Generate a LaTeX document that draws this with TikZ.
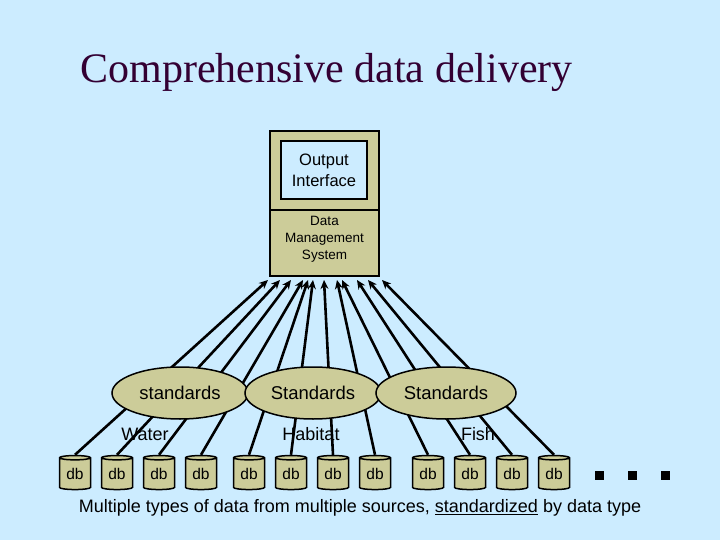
\documentclass[tikz,border=0pt]{standalone}
\usepackage{fontspec}
\setmainfont{Liberation Sans}
\newfontfamily\titlefont{Liberation Serif}
\usetikzlibrary{shapes.geometric,arrows.meta}
\definecolor{bg}{RGB}{204,236,255}
\definecolor{tan}{RGB}{204,204,153}
\definecolor{ttl}{RGB}{51,0,51}
\begin{document}
\begin{tikzpicture}[x=1pt,y=-1pt,
  db/.style={cylinder,shape border rotate=90,aspect=0.25,draw,line width=1.5pt,fill=tan,minimum width=31pt,minimum height=34pt,inner sep=0pt,font=\fontsize{15.5}{15}\selectfont},
  link/.style={line width=2.6pt,-{Stealth[length=9pt,width=8pt]}},
  std/.style={ellipse,draw,line width=1.5pt,fill=tan,minimum width=136pt,minimum height=52pt,font=\fontsize{18.5}{18}\selectfont},
  lbl/.style={font=\fontsize{18}{18}\selectfont}]
\useasboundingbox (0,0) rectangle (720,540);
\fill[bg] (0,0) rectangle (720,540);
\node[font=\titlefont\fontsize{42}{44}\selectfont,text=ttl,anchor=west] (title) at (77,72) {Comprehensive data delivery};
% box
\draw[fill=tan,line width=1.3pt] (270,131) rectangle (379,276);
\draw[line width=1.3pt] (270,210) -- (379,210);
\node[draw,line width=1.3pt,fill=bg,minimum width=86pt,minimum height=58pt,align=center,font=\fontsize{16.5}{21}\selectfont] (out) at (324,170) {Output\\Interface};
\node[align=center,font=\fontsize{13.5}{17}\selectfont] (dms) at (324.5,239) {Data\\Management\\System};
% dbs
\foreach \i/\x in {1/75,2/117,3/159,4/201,5/249,6/291,7/333,8/375,9/428,10/470,11/512,12/554}
  \node[db] (db\i) at (\x,474) {db};
\foreach \i/\x in {1/268,2/280,3/291,4/303,5/308,6/313,7/324,8/337,9/342,10/357,11/368,12/382}
  \coordinate (t\i) at (\x,280);
\foreach \i in {1,...,12}
  \draw[link] (db\i.north) -- (t\i);
\node[std] (s1) at (180,393) {standards};
\node[std] (s2) at (313,393) {Standards};
\node[std,minimum width=140pt] (s3) at (446,393) {Standards};
\node[lbl] (w) at (145,434) {Water};
\node[lbl] (h) at (311,434) {Habitat};
\node[lbl] (f) at (478,434) {Fish};
\foreach \x [count=\k] in {599,632,665}
  \node[fill=black,minimum size=9pt,inner sep=0pt] (sq\k) at (\x,475) {};
\node[font=\fontsize{18}{18}\selectfont] (cap) at (360,508) {Multiple types of data from multiple sources, \underline{standardized} by data type};
\end{tikzpicture}
\end{document}
